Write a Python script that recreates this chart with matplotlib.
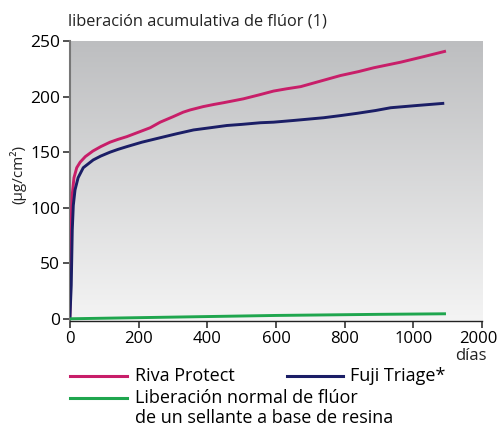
import matplotlib.pyplot as plt
import numpy as np
from matplotlib.lines import Line2D
from matplotlib.colors import LinearSegmentedColormap
from matplotlib.transforms import ScaledTranslation

plt.rcParams['font.family'] = ['Open Sans', 'DejaVu Sans']

# data (days, ug/cm2)
riva_days = [0, 2, 4, 7, 12, 20, 30, 45, 67, 90, 117, 140, 166, 200, 234, 263, 301, 330,
             350, 388, 420, 447, 505, 550, 593, 630, 672, 730, 788, 840, 885, 963, 1030, 1095]
riva_vals = [0, 40, 90, 112, 127, 136, 141, 146, 151, 155, 159, 161.5, 164, 168, 172, 177,
             182, 186, 188, 191, 193, 194.5, 198, 201.5, 205, 207, 209, 214, 219, 222.5,
             226, 231, 236, 241]

fuji_days = [0, 4, 7, 10, 15, 24, 39, 68, 90, 117, 140, 166, 210, 263, 310, 360, 409, 457,
             500, 555, 593, 650, 739, 790, 837, 890, 934, 1010, 1090]
fuji_vals = [0, 30, 80, 102, 116, 127, 136, 143, 146.5, 150, 152.5, 155, 159, 163, 166.5,
             170, 172, 174, 175, 176.5, 177, 178.5, 181, 183, 185, 187.5, 190, 192, 194]

resin_days = [0, 300, 600, 900, 1095]
resin_vals = [0, 1.5, 3, 4, 4.5]

xtick_pos = [0, 200, 400, 600, 800, 1000, 1200]
xtick_lbl = ['0', '200', '400', '600', '800', '1000', '2000']
yticks = [0, 50, 100, 150, 200, 250]

c_riva = '#c81e69'
c_fuji = '#1b1e66'
c_resin = '#1fa64e'

fig = plt.figure(figsize=(4.99, 4.28), dpi=100)
ax = fig.add_axes([0.140, 0.250, 0.826, 0.654])

# gradient background
grad = np.linspace(0, 1, 256).reshape(-1, 1)
ax.imshow(grad, extent=[0, 1200, -2, 250], origin='upper', aspect='auto',
          cmap=LinearSegmentedColormap.from_list('bg', ['#bdbec0', '#f4f4f4']), zorder=0)

kw = dict(lw=2.1, solid_joinstyle='round', solid_capstyle='butt', zorder=3)
ax.plot(riva_days, riva_vals, color=c_riva, **kw)
ax.plot(fuji_days, fuji_vals, color=c_fuji, **kw)
ax.plot(resin_days, resin_vals, color=c_resin, **kw)

ax.set_xlim(0, 1200)
ax.set_ylim(-2, 250)
ax.set_xticks(xtick_pos)
ax.set_xticklabels(xtick_lbl, fontsize=12)
ax.set_yticks(yticks)
ax.set_yticklabels([str(v) for v in yticks], fontsize=12.5)
ax.tick_params(axis='both', direction='out', length=5, width=1.2, color='#333333', pad=2)
# nudge the last x label so it stays inside the figure
last = ax.get_xticklabels()[-1]
last.set_transform(last.get_transform() + ScaledTranslation(-4 / 100, 0, fig.dpi_scale_trans))
for s in ['top', 'right']:
    ax.spines[s].set_visible(False)
ax.spines['left'].set_color('#777777')
ax.spines['left'].set_linewidth(1.5)
ax.spines['bottom'].set_color('#222222')
ax.spines['bottom'].set_linewidth(1.0)

fig.text(68 / 499, 1 - 22 / 428, 'liberación acumulativa de flúor (1)', fontsize=11.8,
         ha='left', va='center', color='#222222')
fig.text(18 / 499, 1 - 175 / 428, '(µg/cm²)', fontsize=11, rotation=90,
         ha='center', va='center', color='#222222')
fig.text(487 / 499, 1 - 356 / 428, 'días', fontsize=12, ha='right', va='center',
         color='#222222')

# legend
def leg(x0, x1, y, color):
    fig.add_artist(Line2D([x0 / 499, x1 / 499], [1 - y / 428, 1 - y / 428],
                          color=color, lw=2.2, transform=fig.transFigure))

leg(70, 127, 376, c_riva)
fig.text(135 / 499, 1 - 376 / 428, 'Riva Protect', fontsize=13, ha='left', va='center')
leg(287, 343, 376, c_fuji)
fig.text(350 / 499, 1 - 376 / 428, 'Fuji Triage*', fontsize=13, ha='left', va='center')
leg(70, 127, 398, c_resin)
fig.text(135 / 499, 1 - 398 / 428, 'Liberación normal de flúor', fontsize=13,
         ha='left', va='center')
fig.text(135 / 499, 1 - 418 / 428, 'de un sellante a base de resina', fontsize=13,
         ha='left', va='center')

fig.savefig('out.png', dpi=100)
